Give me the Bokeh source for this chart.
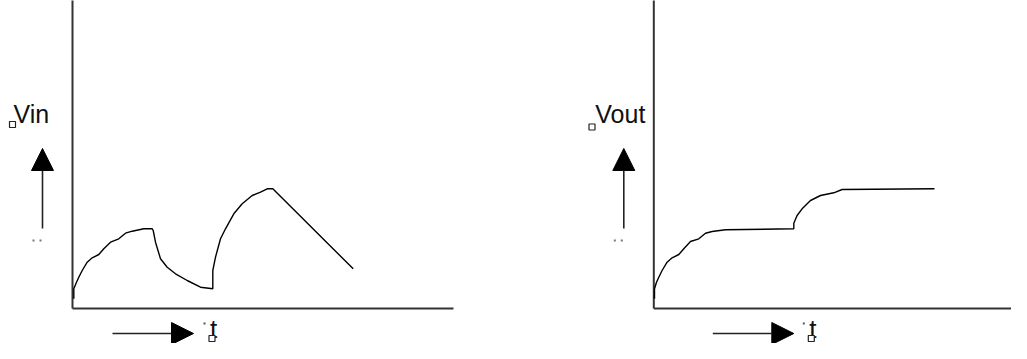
from bokeh.plotting import figure
from bokeh.layouts import row
from bokeh.models import Range1d, Arrow, NormalHead
from bokeh.core.properties import value
from bokeh.embed import file_html
from bokeh.resources import INLINE

# ---- data (time in arbitrary units, voltage in arbitrary units) ----
vin_t = [0.13, 0.13, 0.4, 0.63, 0.97, 1.47, 1.97, 2.63, 3.13, 3.8, 4.63, 5.3, 5.97, 7.13, 7.97,
         8.07, 8.3, 8.8, 9.47, 10.3, 11.47, 12.8, 14.03,
         14.03, 14.3, 14.8, 15.3, 16.13, 16.97, 17.97, 18.8, 19.47, 20.03, 28.07]
vin_v = [0.97, 1.97, 2.63, 3.13, 3.8, 4.63, 5.07, 5.4, 5.97, 6.63, 6.97, 7.53, 7.73, 7.97, 7.97,
         7.8, 6.63, 4.97, 4.13, 3.47, 2.8, 2.13, 1.97,
         3.8, 5.13, 6.97, 7.97, 9.47, 10.47, 11.3, 11.63, 11.97, 11.97, 3.97]

vout_t = [0.07, 0.07, 0.27, 0.5, 0.83, 1.33, 1.83, 2.5, 3.0, 3.67, 4.5, 5.17, 5.83, 7.17, 14.0,
          14.0, 14.33, 14.83, 15.67, 16.67, 18.0, 18.83, 28.07]
vout_v = [0.97, 1.97, 2.63, 3.13, 3.8, 4.63, 5.07, 5.4, 5.97, 6.7, 6.97, 7.53, 7.7, 7.87, 7.97,
          8.53, 9.3, 9.97, 10.8, 11.3, 11.57, 11.9, 11.97]

y_labels = ["Vin", "Vout"]
x_label = "t"

# ---- layout / style ----
FONT = value("Liberation Sans")
AXIS_COLOR = "#333333"
HEIGHT = 343
Y_TOP = 30.8
Y_BOT = Y_TOP - HEIGHT / 10.0
AXIS_LEN_T = 38.1
AXIS_TOP_V = 31.5
ARROW_V = -2.5


def panel(width, t_start, t_series, v_series, ylabel, harrow_start, harrow_end, tlabel_t,
          ylabel_t, box_t, box_v):
    p = figure(width=width, height=HEIGHT, output_backend="svg", toolbar_location=None,
               x_range=Range1d(t_start, t_start + width / 10.0), y_range=Range1d(Y_BOT, Y_TOP),
               x_axis_location=None, y_axis_location=None, min_border=0)
    p.grid.visible = False
    p.outline_line_color = None
    p.background_fill_color = "white"
    p.border_fill_color = "white"

    # axes
    p.segment(x0=[0, 0], y0=[0, 0], x1=[0, AXIS_LEN_T], y1=[AXIS_TOP_V, 0],
              line_color=AXIS_COLOR, line_width=2)

    # curve
    p.line(t_series, v_series, line_color="black", line_width=1.4)

    # vertical arrow + label
    p.add_layout(Arrow(end=NormalHead(size=22, fill_color="black", line_color="black"),
                       x_start=-3.0, y_start=8.0, x_end=-3.0, y_end=16.0,
                       line_color="#222222", line_width=1.6))
    p.text(x=[ylabel_t], y=[19.5], text=[ylabel], text_font=FONT,
           text_font_size=value("25px"), text_color="#111111",
           text_baseline="middle", text_align="left")
    p.scatter(x=[-3.9, -3.2], y=[6.8, 6.8], marker="square", size=2, line_color=None,
              fill_color="#777777")
    p.scatter(x=[box_t], y=[box_v], marker="square", size=6, fill_color="white",
              line_color="#222222", line_width=1.2)

    # horizontal arrow + label
    p.add_layout(Arrow(end=NormalHead(size=22, fill_color="black", line_color="black"),
                       x_start=harrow_start, y_start=ARROW_V, x_end=harrow_end, y_end=ARROW_V,
                       line_color="#222222", line_width=1.6))
    p.text(x=[tlabel_t], y=[ARROW_V + 0.5], text=[x_label], text_font=FONT,
           text_font_size=value("26px"), text_color="#111111",
           text_baseline="middle", text_align="center")
    p.scatter(x=[tlabel_t - 0.9], y=[ARROW_V + 1.0], marker="square", size=2, line_color=None,
              fill_color="#555555")
    p.scatter(x=[tlabel_t - 0.15], y=[ARROW_V - 0.5], marker="square", size=6,
              fill_color="white", line_color="#222222", line_width=1.2)
    return p


left = panel(570, -7.2, vin_t, vin_v, y_labels[0], 4.0, 12.1, 14.1, -5.9, -6.0, 18.4)
right = panel(441, -8.33, vout_t, vout_v, y_labels[1], 5.9, 14.0, 15.9, -5.85, -6.18, 18.15)

layout = row(left, right, spacing=0)
open("out.html", "w").write(file_html(layout, INLINE))
